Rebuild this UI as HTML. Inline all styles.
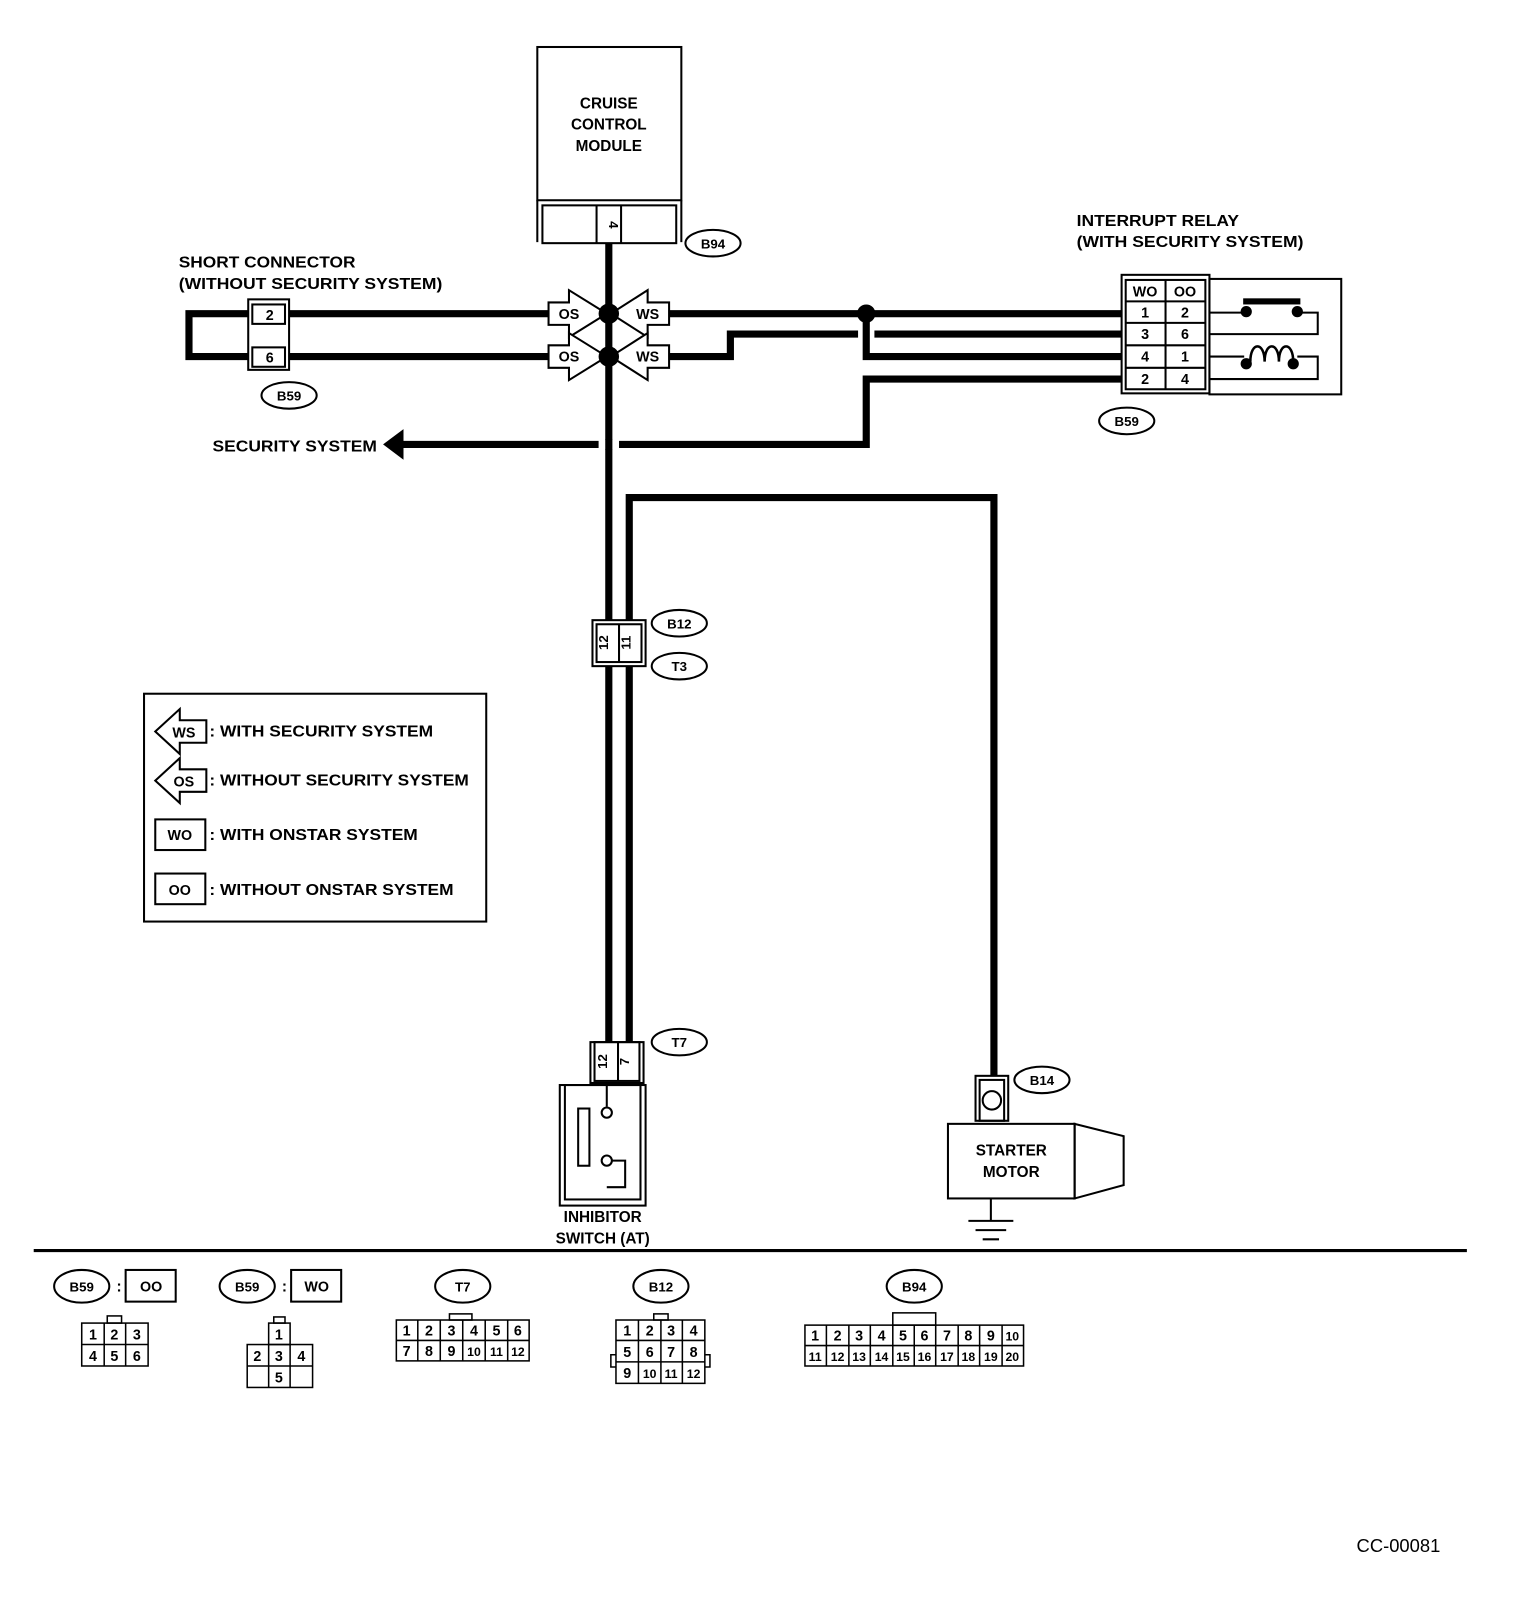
<!DOCTYPE html>
<html><head><meta charset="utf-8"><style>
html,body{margin:0;padding:0;background:#fff;}
svg{display:block;}
text{font-family:"Liberation Sans",Arial,sans-serif;font-weight:bold;fill:#000;}
</style></head><body>
<svg width="1520" height="1602" viewBox="0 0 1488 1568" preserveAspectRatio="none" xmlns="http://www.w3.org/2000/svg">
<g fill="none" stroke="#000">
<rect x="526" y="46" width="141" height="150" stroke-width="2"/>
<line x1="526" y1="196" x2="526" y2="237" stroke-width="2"/>
<line x1="667" y1="196" x2="667" y2="237" stroke-width="2"/>
<rect x="531" y="201" width="131" height="37" stroke-width="2"/>
<line x1="584" y1="201" x2="584" y2="238" stroke-width="2"/>
<line x1="608" y1="201" x2="608" y2="238" stroke-width="2"/>
<ellipse cx="698" cy="238" rx="27" ry="13" stroke-width="2"/>
<g stroke-width="7">
<line x1="596" y1="238" x2="596" y2="1020"/>
<polyline points="616,1020 616,487 973,487 973,1053"/>
<polyline points="283,307 185,307 185,349 245,349"/>
<line x1="283" y1="307" x2="545" y2="307"/>
<line x1="283" y1="349" x2="545" y2="349"/>
<line x1="650" y1="307" x2="1102" y2="307"/>
<polyline points="650,349 715,349 715,327 840,327"/>
<line x1="856" y1="327" x2="1102" y2="327"/>
<polyline points="848,307 848,349 1102,349"/>
<polyline points="1102,371 848,371 848,435 395,435"/>
</g>
<line x1="586" y1="435" x2="606" y2="435" stroke="#fff" stroke-width="9"/>
<line x1="596" y1="430" x2="596" y2="440" stroke-width="7"/>
<rect x="243" y="293" width="40" height="69" stroke-width="2" fill="#fff"/>
<rect x="247" y="298" width="32" height="19" stroke-width="2"/>
<rect x="247" y="340" width="32" height="19" stroke-width="2"/>
<ellipse cx="283" cy="387" rx="27" ry="13" stroke-width="2"/>
<rect x="1098" y="269" width="86" height="116" stroke-width="2" fill="#fff"/>
<rect x="1102" y="274" width="78" height="107" stroke-width="2"/>
<g stroke-width="2">
<line x1="1141" y1="274" x2="1141" y2="381"/>
<line x1="1102" y1="295" x2="1180" y2="295"/>
<line x1="1102" y1="316" x2="1180" y2="316"/>
<line x1="1102" y1="338" x2="1180" y2="338"/>
<line x1="1102" y1="360" x2="1180" y2="360"/>
<rect x="1184" y="273" width="129" height="113"/>
<polyline points="1184,306 1220,306"/><polyline points="1270,306 1290,306 1290,327 1184,327"/>
<polyline points="1184,349 1218,349"/><polyline points="1270,349 1290,349 1290,371 1184,371"/>
</g>
<rect x="1217" y="292" width="56" height="6" fill="#000" stroke="none"/>
<circle cx="1220" cy="305" r="5" fill="#000"/><circle cx="1270" cy="305" r="5" fill="#000"/>
<circle cx="1220" cy="356" r="5" fill="#000"/><circle cx="1266" cy="356" r="5" fill="#000"/>
<path d="M1224,354 c0,-20 14,-20 14,0 c0,-20 14,-20 14,0 c0,-20 14,-20 14,0" stroke-width="2.5"/>
<ellipse cx="1103" cy="412" rx="27" ry="13" stroke-width="2"/>
<rect x="580" y="607" width="52" height="45" stroke-width="2" fill="#fff"/>
<rect x="584" y="611" width="44" height="37" stroke-width="2"/>
<line x1="606" y1="611" x2="606" y2="648" stroke-width="2"/>
<ellipse cx="665" cy="610" rx="27" ry="13" stroke-width="2"/>
<ellipse cx="665" cy="652" rx="27" ry="13" stroke-width="2"/>
<rect x="578" y="1020" width="52" height="40" stroke-width="2" fill="#fff"/>
<rect x="582" y="1020" width="44" height="38" stroke-width="2"/>
<line x1="605" y1="1020" x2="605" y2="1058" stroke-width="2"/>
<ellipse cx="665" cy="1020" rx="27" ry="13" stroke-width="2"/>
<rect x="548" y="1062" width="84" height="118" stroke-width="2"/>
<rect x="553" y="1062" width="74" height="112" stroke-width="2"/>
<rect x="566" y="1085" width="11" height="56" stroke-width="2"/>
<line x1="594" y1="1060" x2="594" y2="1083" stroke-width="2"/>
<circle cx="594" cy="1089" r="5" stroke-width="2"/>
<circle cx="594" cy="1136" r="5" stroke-width="2"/>
<polyline points="599,1136 612,1136 612,1162 594,1162" stroke-width="2"/>
<rect x="955" y="1053" width="32" height="44" stroke-width="2" fill="#fff"/>
<rect x="959" y="1057" width="24" height="40" stroke-width="2"/>
<circle cx="971" cy="1077" r="9" stroke-width="2"/>
<ellipse cx="1020" cy="1057" rx="27" ry="13" stroke-width="2"/>
<rect x="928" y="1100" width="124" height="73" stroke-width="2"/>
<polygon points="1052,1100 1100,1112 1100,1160 1052,1173" stroke-width="2"/>
<line x1="970" y1="1173" x2="970" y2="1195" stroke-width="2"/>
<line x1="948" y1="1195" x2="992" y2="1195" stroke-width="2"/>
<line x1="955" y1="1204" x2="985" y2="1204" stroke-width="2"/>
<line x1="962" y1="1213" x2="978" y2="1213" stroke-width="2"/>
<rect x="141" y="679" width="335" height="223" stroke-width="2"/>
<polygon points="152,716 176,694 176,705 202,705 202,727 176,727 176,738" stroke-width="2"/>
<polygon points="152,764 176,742 176,753 202,753 202,775 176,775 176,786" stroke-width="2"/>
<rect x="152" y="802" width="49" height="30" stroke-width="2"/>
<rect x="152" y="855" width="49" height="30" stroke-width="2"/>
<line x1="33" y1="1224" x2="1436" y2="1224" stroke-width="3"/>
<ellipse cx="80" cy="1259" rx="27" ry="16" stroke-width="2"/>
<rect x="123" y="1243" width="49" height="31" stroke-width="2"/>
<ellipse cx="242" cy="1259" rx="27" ry="16" stroke-width="2"/>
<rect x="285" y="1243" width="49" height="31" stroke-width="2"/>
<ellipse cx="453" cy="1259" rx="27" ry="16" stroke-width="2"/>
<ellipse cx="647" cy="1259" rx="27" ry="16" stroke-width="2"/>
<ellipse cx="895" cy="1259" rx="27" ry="16" stroke-width="2"/>
<g stroke-width="1.5">
<rect x="80" y="1295" width="65" height="42"/><rect x="105" y="1288" width="14" height="7"/>
<line x1="80" y1="1316" x2="145" y2="1316"/><line x1="102" y1="1295" x2="102" y2="1337"/><line x1="123" y1="1295" x2="123" y2="1337"/>
<rect x="263" y="1295" width="21" height="21"/><rect x="268" y="1289" width="11" height="6"/>
<rect x="242" y="1316" width="64" height="42"/><line x1="242" y1="1337" x2="306" y2="1337"/><line x1="263" y1="1316" x2="263" y2="1358"/><line x1="284" y1="1316" x2="284" y2="1358"/>
<rect x="388" y="1292" width="130" height="40"/><rect x="440" y="1286" width="22" height="6"/><line x1="388" y1="1312" x2="518" y2="1312"/>
<line x1="409" y1="1292" x2="409" y2="1332"/><line x1="431" y1="1292" x2="431" y2="1332"/><line x1="453" y1="1292" x2="453" y2="1332"/><line x1="475" y1="1292" x2="475" y2="1332"/><line x1="497" y1="1292" x2="497" y2="1332"/>
<rect x="603" y="1292" width="87" height="62"/><rect x="640" y="1286" width="14" height="6"/>
<line x1="603" y1="1312" x2="690" y2="1312"/><line x1="603" y1="1333" x2="690" y2="1333"/>
<line x1="625" y1="1292" x2="625" y2="1354"/><line x1="647" y1="1292" x2="647" y2="1354"/><line x1="668" y1="1292" x2="668" y2="1354"/>
<polyline points="603,1326 598,1326 598,1338 603,1338"/><polyline points="690,1326 695,1326 695,1338 690,1338"/>
<rect x="788" y="1297" width="214" height="40"/><rect x="874" y="1285" width="42" height="12"/><line x1="788" y1="1317" x2="1002" y2="1317"/>
<line x1="809" y1="1297" x2="809" y2="1337"/><line x1="831" y1="1297" x2="831" y2="1337"/><line x1="852" y1="1297" x2="852" y2="1337"/><line x1="874" y1="1297" x2="874" y2="1337"/><line x1="895" y1="1297" x2="895" y2="1337"/><line x1="916" y1="1297" x2="916" y2="1337"/><line x1="938" y1="1297" x2="938" y2="1337"/><line x1="959" y1="1297" x2="959" y2="1337"/><line x1="981" y1="1297" x2="981" y2="1337"/>
</g>
</g>
<polygon points="375,435 395,420 395,450" fill="#000"/>
<g fill="#fff" stroke="#000" stroke-width="2">
<polygon points="537,296 557,296 557,284 594,307 557,330 557,318 537,318"/>
<polygon points="537,338 557,338 557,326 594,349 557,372 557,360 537,360"/>
<polygon points="655,296 634,296 634,284 598,307 634,330 634,318 655,318"/>
<polygon points="655,338 634,338 634,326 598,349 634,372 634,360 655,360"/>
</g>
<circle cx="596" cy="307" r="10" fill="#000"/>
<circle cx="596" cy="349" r="10" fill="#000"/>
<circle cx="848" cy="307" r="9" fill="#000"/>
<g font-size="15" text-anchor="middle">
<text x="596" y="106">CRUISE</text><text x="596" y="127">CONTROL</text><text x="596" y="148">MODULE</text>
<text x="596" y="220" font-size="13" transform="rotate(90 596 220)">4</text>
<text x="698" y="243" font-size="13">B94</text>
<text x="557" y="312" font-size="14">OS</text><text x="557" y="354" font-size="14">OS</text>
<text x="634" y="312" font-size="14">WS</text><text x="634" y="354" font-size="14">WS</text>
<text x="264" y="313" font-size="14">2</text><text x="264" y="355" font-size="14">6</text>
<text x="283" y="392" font-size="13">B59</text>
<text x="1103" y="417" font-size="13">B59</text>
<text x="1121" y="290" font-size="14">WO</text><text x="1160" y="290" font-size="14">OO</text>
<text x="1121" y="311" font-size="14">1</text><text x="1160" y="311" font-size="14">2</text>
<text x="1121" y="332" font-size="14">3</text><text x="1160" y="332" font-size="14">6</text>
<text x="1121" y="354" font-size="14">4</text><text x="1160" y="354" font-size="14">1</text>
<text x="1121" y="376" font-size="14">2</text><text x="1160" y="376" font-size="14">4</text>
<text x="665" y="615" font-size="13">B12</text><text x="665" y="657" font-size="13">T3</text>
<text x="595" y="629" font-size="13" transform="rotate(-90 595 629)">12</text>
<text x="617" y="629" font-size="13" transform="rotate(-90 617 629)">11</text>
<text x="665" y="1025" font-size="13">T7</text>
<text x="594" y="1039" font-size="13" transform="rotate(-90 594 1039)">12</text>
<text x="616" y="1039" font-size="13" transform="rotate(-90 616 1039)">7</text>
<text x="1020" y="1062" font-size="13">B14</text>
<text x="990" y="1131">STARTER</text><text x="990" y="1152">MOTOR</text>
<text x="590" y="1196">INHIBITOR</text><text x="590" y="1217">SWITCH (AT)</text>
<text x="80" y="1264" font-size="13">B59</text><text x="148" y="1264" font-size="14">OO</text>
<text x="242" y="1264" font-size="13">B59</text><text x="310" y="1264" font-size="14">WO</text>
<text x="453" y="1264" font-size="13">T7</text><text x="647" y="1264" font-size="13">B12</text><text x="895" y="1264" font-size="13">B94</text>
</g>
<g font-size="15">
<text x="175" y="262" textLength="173" lengthAdjust="spacingAndGlyphs">SHORT CONNECTOR</text>
<text x="175" y="283" textLength="258" lengthAdjust="spacingAndGlyphs">(WITHOUT SECURITY SYSTEM)</text>
<text x="1054" y="221" textLength="159" lengthAdjust="spacingAndGlyphs">INTERRUPT RELAY</text>
<text x="1054" y="242" textLength="222" lengthAdjust="spacingAndGlyphs">(WITH SECURITY SYSTEM)</text>
<text x="208" y="442" textLength="161" lengthAdjust="spacingAndGlyphs">SECURITY SYSTEM</text>
<text x="205" y="721" textLength="219" lengthAdjust="spacingAndGlyphs">: WITH SECURITY SYSTEM</text>
<text x="205" y="769" textLength="254" lengthAdjust="spacingAndGlyphs">: WITHOUT SECURITY SYSTEM</text>
<text x="205" y="822" textLength="204" lengthAdjust="spacingAndGlyphs">: WITH ONSTAR SYSTEM</text>
<text x="205" y="876" textLength="239" lengthAdjust="spacingAndGlyphs">: WITHOUT ONSTAR SYSTEM</text>
<text x="114" y="1264">:</text><text x="276" y="1264">:</text>
</g>
<g font-size="14" text-anchor="middle">
<text x="180" y="722">WS</text><text x="180" y="770">OS</text>
<text x="176" y="822">WO</text><text x="176" y="876">OO</text>
</g>
<g font-size="14" text-anchor="middle" style="font-weight:normal">
<text x="91" y="1311">1</text><text x="112" y="1311">2</text><text x="134" y="1311">3</text>
<text x="91" y="1332">4</text><text x="112" y="1332">5</text><text x="134" y="1332">6</text>
<text x="273" y="1311">1</text><text x="252" y="1332">2</text><text x="273" y="1332">3</text><text x="295" y="1332">4</text><text x="273" y="1353">5</text>
<text x="398" y="1307">1</text><text x="420" y="1307">2</text><text x="442" y="1307">3</text><text x="464" y="1307">4</text><text x="486" y="1307">5</text><text x="507" y="1307">6</text>
<text x="398" y="1327">7</text><text x="420" y="1327">8</text><text x="442" y="1327">9</text><text x="464" y="1327" font-size="12">10</text><text x="486" y="1327" font-size="12">11</text><text x="507" y="1327" font-size="12">12</text>
<text x="614" y="1307">1</text><text x="636" y="1307">2</text><text x="657" y="1307">3</text><text x="679" y="1307">4</text>
<text x="614" y="1328">5</text><text x="636" y="1328">6</text><text x="657" y="1328">7</text><text x="679" y="1328">8</text>
<text x="614" y="1349">9</text><text x="636" y="1349" font-size="12">10</text><text x="657" y="1349" font-size="12">11</text><text x="679" y="1349" font-size="12">12</text>
<text x="798" y="1312">1</text><text x="820" y="1312">2</text><text x="841" y="1312">3</text><text x="863" y="1312">4</text><text x="884" y="1312">5</text><text x="905" y="1312">6</text><text x="927" y="1312">7</text><text x="948" y="1312">8</text><text x="970" y="1312">9</text><text x="991" y="1312" font-size="12">10</text>
<g font-size="12"><text x="798" y="1332">11</text><text x="820" y="1332">12</text><text x="841" y="1332">13</text><text x="863" y="1332">14</text><text x="884" y="1332">15</text><text x="905" y="1332">16</text><text x="927" y="1332">17</text><text x="948" y="1332">18</text><text x="970" y="1332">19</text><text x="991" y="1332">20</text></g>
</g>
<text x="1328" y="1519" font-size="18" style="font-weight:normal">CC-00081</text>
</svg>
</body></html>
